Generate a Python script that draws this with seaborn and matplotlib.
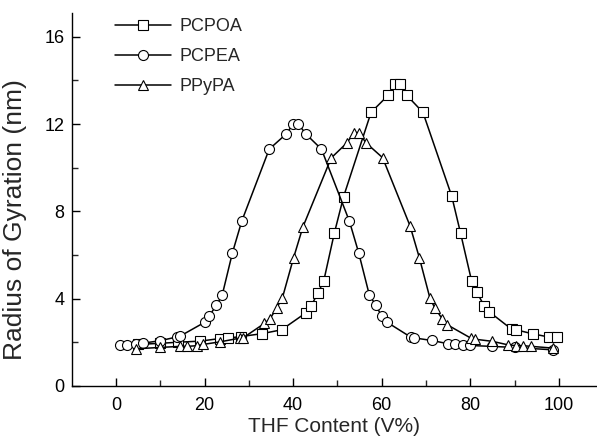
import numpy as np
import pandas as pd
import matplotlib
matplotlib.use("Agg")
import matplotlib.pyplot as plt
import seaborn as sns

# ---- data ----
pcpoa_x = [5, 10, 14, 19, 23.5, 25.3, 28.2, 32.9, 37.4, 42.9, 44.1, 45.6, 46.9,
           49.3, 51.4, 57.6, 61.5, 63.1, 64.1, 65.6, 69.3, 75.8, 77.8, 80.3,
           81.5, 83.1, 84.3, 89.3, 90.3, 94.2, 97.7, 99.5]
pcpoa_y = [1.9, 1.95, 2.0, 2.05, 2.17, 2.19, 2.26, 2.39, 2.57, 3.35, 3.68, 4.26, 4.8,
           7.0, 8.68, 12.54, 13.33, 13.84, 13.84, 13.33, 12.54, 8.7, 7.0, 4.8,
           4.28, 3.68, 3.39, 2.6, 2.57, 2.38, 2.24, 2.22]

pcpea_x = [1, 2.6, 4.5, 6.2, 10, 13.7, 14.4, 20, 21, 22.7, 24, 26.3, 28.4, 34.6,
           38.4, 40, 41.2, 42.9, 46.4, 52.7, 54.8, 57.2, 58.6, 60, 61.1, 66.5,
           67.3, 71.3, 75, 76.5, 78.4, 80, 84.8, 90, 98.7]
pcpea_y = [1.85, 1.85, 1.92, 1.96, 2.07, 2.24, 2.27, 2.91, 3.19, 3.7, 4.17, 6.1,
           7.55, 10.85, 11.54, 12.0, 12.0, 11.54, 10.85, 7.55, 6.1, 4.17, 3.72,
           3.19, 2.93, 2.24, 2.2, 2.08, 1.93, 1.92, 1.85, 1.85, 1.81, 1.76, 1.65]

ppypa_x = [4.6, 9.9, 14.4, 16.1, 18.2, 19.7, 23.6, 28, 28.7, 33.5, 34.8, 36.3,
           37.6, 40.1, 42.2, 48.6, 52.2, 53.7, 54.9, 56.4, 60.2, 66.4, 68.5,
           70.9, 72, 73.7, 74.8, 80.1, 81, 85, 88.5, 90.3, 91.9, 93.8, 98.7]
ppypa_y = [1.7, 1.76, 1.81, 1.81, 1.84, 1.9, 2.02, 2.19, 2.2, 2.86, 3.08, 3.57,
           4.05, 5.87, 7.28, 10.45, 11.15, 11.61, 11.61, 11.15, 10.46, 7.33, 5.87,
           4.01, 3.57, 3.06, 2.8, 2.19, 2.14, 2.04, 1.88, 1.84, 1.84, 1.81, 1.73]

series_names = ["PCPOA", "PCPEA", "PPyPA"]
series_markers = {"PCPOA": "s", "PCPEA": "o", "PPyPA": "^"}

xticks = [0, 20, 40, 60, 80, 100]
yticks = [0, 4, 8, 12, 16]

df = pd.concat([
    pd.DataFrame({"x": pcpoa_x, "y": pcpoa_y, "series": "PCPOA"}),
    pd.DataFrame({"x": pcpea_x, "y": pcpea_y, "series": "PCPEA"}),
    pd.DataFrame({"x": ppypa_x, "y": ppypa_y, "series": "PPyPA"}),
], ignore_index=True)

sns.set_theme(style="ticks")
plt.rcParams["font.family"] = ["Liberation Sans", "DejaVu Sans"]

fig = plt.figure(figsize=(5.97, 4.43), dpi=100)
ax = fig.add_axes([0.12, 0.129, 0.88, 0.842])

sns.lineplot(data=df, x="x", y="y", hue="series", style="series",
             hue_order=series_names, style_order=series_names,
             palette=["black"] * 3, markers=series_markers, dashes=False,
             estimator=None, sort=False, legend=False, ax=ax,
             linewidth=1.1, markersize=7.2, markerfacecolor="white",
             markeredgecolor="black", markeredgewidth=0.8)

ax.set_xlim(-10, 108.6)
ax.set_ylim(0, 17.1)
ax.set_xticks(xticks)
ax.set_yticks(yticks)
ax.set_xticks([10, 30, 50, 70, 90], minor=True)
ax.set_yticks([2, 6, 10, 14], minor=True)

for s in ["top", "right"]:
    ax.spines[s].set_visible(False)
for s in ["left", "bottom"]:
    ax.spines[s].set_linewidth(1.0)
    ax.spines[s].set_color("black")

ax.tick_params(which="major", direction="in", length=6, width=1.0,
               labelsize=13, colors="black")
ax.tick_params(which="minor", direction="in", length=4, width=1.0)
ax.tick_params(axis="x", which="major", pad=8)
ax.tick_params(axis="y", which="major", pad=5)

ax.set_xlabel("THF Content (V%)", fontsize=15, labelpad=2)
ax.set_ylabel("Radius of Gyration (nm)", fontsize=19)
ax.yaxis.set_label_coords(-0.085, 0.447)

handles = ax.lines[:3]
leg = ax.legend(handles, series_names, loc="upper left",
                bbox_to_anchor=(115 / 597, 1 - 18 / 443),
                bbox_transform=fig.transFigure, frameon=False,
                fontsize=13, handlelength=3.1, handletextpad=0.45,
                labelspacing=0.72, borderpad=0, borderaxespad=0, numpoints=1)

fig.savefig("out.png", dpi=100)
